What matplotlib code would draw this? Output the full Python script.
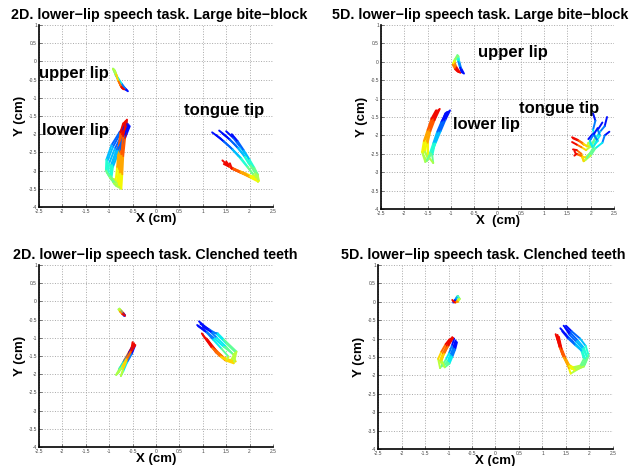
import matplotlib
matplotlib.use('Agg')
import matplotlib.pyplot as plt
import numpy as np
from matplotlib.collections import LineCollection

plt.rcParams['font.family'] = ['Liberation Sans', 'DejaVu Sans']

# ---------- 2D, large bite-block ----------
ul_2d_bb_x = [[-0.62,-0.68,-0.76,-0.85,-0.92,-0.88,-0.82,-0.76,-0.72],
              [-0.65,-0.70,-0.78,-0.86,-0.90,-0.86,-0.80,-0.75,-0.70],
              [-0.60,-0.66,-0.74,-0.83,-0.88,-0.85,-0.80,-0.74,-0.68]]
ul_2d_bb_y = [[-0.80,-0.72,-0.58,-0.40,-0.20,-0.30,-0.48,-0.65,-0.74],
              [-0.78,-0.70,-0.55,-0.38,-0.22,-0.34,-0.52,-0.68,-0.76],
              [-0.82,-0.74,-0.60,-0.42,-0.25,-0.36,-0.55,-0.70,-0.77]]
ll_2d_bb_x = [[-0.60,-0.72,-0.88,-1.00,-1.02,-0.92,-0.80,-0.78,-0.76,-0.72,-0.66],
              [-0.58,-0.70,-0.85,-0.96,-0.98,-0.88,-0.76,-0.74,-0.72,-0.68,-0.63],
              [-0.62,-0.75,-0.92,-1.04,-1.05,-0.95,-0.82,-0.80,-0.78,-0.74,-0.68],
              [-0.56,-0.66,-0.80,-0.92,-0.95,-0.85,-0.74,-0.72,-0.70,-0.66,-0.62],
              [-0.63,-0.78,-0.95,-1.06,-1.07,-0.98,-0.86,-0.83,-0.80,-0.76,-0.70],
              [-0.59,-0.68,-0.82,-0.94,-0.97,-0.90,-0.79,-0.77,-0.74,-0.70,-0.64]]
ll_2d_bb_y = [[-1.72,-2.00,-2.40,-2.80,-3.10,-3.30,-3.35,-3.00,-2.50,-2.05,-1.65],
              [-1.75,-2.05,-2.45,-2.85,-3.15,-3.38,-3.45,-3.05,-2.55,-2.05,-1.62],
              [-1.70,-1.95,-2.35,-2.75,-3.05,-3.25,-3.30,-2.95,-2.45,-2.00,-1.68],
              [-1.78,-2.10,-2.50,-2.90,-3.20,-3.42,-3.50,-3.10,-2.60,-2.10,-1.60],
              [-1.72,-1.95,-2.30,-2.70,-3.00,-3.20,-3.25,-2.90,-2.40,-1.95,-1.70],
              [-1.76,-2.05,-2.45,-2.85,-3.15,-3.35,-3.40,-3.05,-2.55,-2.05,-1.63]]
tt_2d_bb_x = [[1.20,1.38,1.58,1.76,1.92,2.08,2.12,1.95,1.75,1.58,1.45],
              [1.35,1.52,1.70,1.86,1.98,2.12,2.16,2.00,1.80,1.62,1.50],
              [1.50,1.65,1.80,1.94,2.05,2.17,2.20,2.05,1.85,1.68,1.55],
              [1.62,1.75,1.88,2.00,2.10,2.18,2.18,2.00,1.80,1.60,1.48],
              [1.28,1.45,1.64,1.82,1.96,2.08,2.10,1.92,1.72,1.55,1.42],
              [1.42,1.58,1.75,1.90,2.02,2.13,2.14,1.98,1.78,1.62,1.58]]
tt_2d_bb_y = [[-1.95,-2.12,-2.35,-2.60,-2.85,-3.10,-3.22,-3.12,-3.00,-2.90,-2.82],
              [-1.90,-2.08,-2.30,-2.55,-2.80,-3.05,-3.25,-3.15,-3.05,-2.95,-2.75],
              [-1.92,-2.10,-2.35,-2.60,-2.85,-3.10,-3.28,-3.20,-3.08,-2.98,-2.85],
              [-2.00,-2.20,-2.45,-2.70,-2.92,-3.12,-3.30,-3.18,-3.05,-2.92,-2.80],
              [-2.02,-2.20,-2.42,-2.66,-2.90,-3.12,-3.18,-3.08,-2.98,-2.88,-2.72],
              [-1.98,-2.15,-2.38,-2.62,-2.86,-3.08,-3.24,-3.14,-3.02,-2.94,-2.80]]

# ---------- 5D, large bite-block ----------
ul_5d_bb_x = [[-0.75,-0.80,-0.83,-0.86,-0.92,-0.95,-0.90,-0.84],
              [-0.72,-0.78,-0.82,-0.84,-0.90,-0.92,-0.88,-0.80],
              [-0.77,-0.81,-0.85,-0.88,-0.93,-0.96,-0.91,-0.86]]
ul_5d_bb_y = [[-0.30,-0.15,0.02,0.18,0.05,-0.05,-0.18,-0.28],
              [-0.32,-0.18,0.00,0.15,0.08,-0.02,-0.15,-0.30],
              [-0.28,-0.12,0.04,0.12,0.02,-0.08,-0.20,-0.26]]
ll_5d_bb_x = [[-1.05,-1.15,-1.25,-1.35,-1.42,-1.48,-1.55,-1.52,-1.45,-1.36,-1.26],
              [-1.10,-1.20,-1.30,-1.38,-1.45,-1.52,-1.60,-1.57,-1.50,-1.40,-1.30],
              [-1.12,-1.20,-1.28,-1.35,-1.40,-1.38,-1.50,-1.50,-1.44,-1.35,-1.24],
              [-1.02,-1.12,-1.22,-1.32,-1.40,-1.50,-1.58,-1.55,-1.47,-1.38,-1.30],
              [-1.08,-1.16,-1.26,-1.34,-1.42,-1.55,-1.62,-1.58,-1.50,-1.42,-1.32]]
ll_5d_bb_y = [[-1.35,-1.60,-1.90,-2.20,-2.45,-2.65,-2.45,-2.15,-1.85,-1.55,-1.30],
              [-1.38,-1.62,-1.92,-2.22,-2.48,-2.70,-2.50,-2.20,-1.90,-1.60,-1.35],
              [-1.40,-1.65,-1.95,-2.25,-2.55,-2.75,-2.55,-2.20,-1.88,-1.58,-1.28],
              [-1.32,-1.58,-1.88,-2.18,-2.42,-2.60,-2.40,-2.10,-1.80,-1.52,-1.32],
              [-1.36,-1.62,-1.92,-2.22,-2.50,-2.72,-2.45,-2.15,-1.85,-1.55,-1.32]]
tt_5d_bb_x = [[2.35,2.30,2.20,2.12,2.05,1.95,1.85,1.75,1.62],
              [2.05,2.10,2.05,2.10,2.00,1.90,1.80,1.70,1.60],
              [2.25,2.15,2.20,2.10,2.02,1.88,1.78,1.68,1.65],
              [2.40,2.30,2.25,2.10,2.00,1.85,1.80,1.70,1.62],
              [1.95,2.05,2.15,2.05,1.95,1.92,1.82,1.72,1.60],
              [2.15,2.05,1.98,2.05,1.90,1.85,1.80,1.70,1.65]]
tt_5d_bb_y = [[-1.50,-1.75,-1.90,-2.05,-2.20,-2.30,-2.25,-2.15,-2.08],
              [-1.40,-1.60,-1.85,-2.05,-2.30,-2.40,-2.32,-2.25,-2.18],
              [-1.65,-1.85,-2.00,-2.20,-2.45,-2.60,-2.55,-2.50,-2.42],
              [-1.90,-2.00,-2.20,-2.35,-2.55,-2.70,-2.50,-2.40,-2.38],
              [-2.10,-1.95,-2.15,-2.30,-2.20,-2.30,-2.20,-2.12,-2.05],
              [-1.80,-2.00,-2.15,-2.35,-2.65,-2.70,-2.55,-2.50,-2.55]]

# ---------- 2D, clenched teeth ----------
ul_2d_ct_x = [[-0.66,-0.70,-0.74,-0.78,-0.75,-0.70,-0.66],
              [-0.68,-0.72,-0.76,-0.80,-0.77,-0.72,-0.68]]
ul_2d_ct_y = [[-0.38,-0.32,-0.26,-0.20,-0.25,-0.32,-0.40],
              [-0.40,-0.33,-0.27,-0.22,-0.28,-0.35,-0.38]]
ll_2d_ct_x = [[-0.48,-0.55,-0.65,-0.75,-0.85,-0.78,-0.68,-0.58,-0.47],
              [-0.50,-0.58,-0.68,-0.77,-0.82,-0.74,-0.64,-0.55,-0.46],
              [-0.45,-0.52,-0.62,-0.70,-0.75,-0.70,-0.62,-0.54,-0.44],
              [-0.52,-0.60,-0.70,-0.78,-0.80,-0.72,-0.62,-0.53,-0.50]]
ll_2d_ct_y = [[-1.25,-1.45,-1.65,-1.85,-2.02,-1.85,-1.62,-1.40,-1.15],
              [-1.30,-1.50,-1.70,-1.88,-1.98,-1.80,-1.58,-1.38,-1.18],
              [-1.22,-1.45,-1.68,-1.92,-2.05,-1.85,-1.60,-1.40,-1.20],
              [-1.28,-1.48,-1.68,-1.84,-1.95,-1.78,-1.55,-1.35,-1.12]]
tt_2d_ct_x = [[0.92,1.10,1.30,1.50,1.68,1.62,1.45,1.25,1.05],
              [0.88,1.05,1.25,1.45,1.65,1.70,1.50,1.30,1.10],
              [0.95,1.15,1.30,1.50,1.70,1.60,1.40,1.20,1.00],
              [1.00,1.20,1.32,1.45,1.72,1.66,1.48,1.28,1.08],
              [0.90,1.08,1.22,1.40,1.55,1.50,1.36,1.18,0.98]]
tt_2d_ct_y = [[-0.55,-0.75,-1.00,-1.25,-1.50,-1.65,-1.55,-1.30,-1.00],
              [-0.65,-0.80,-1.02,-1.25,-1.45,-1.65,-1.60,-1.38,-1.05],
              [-0.62,-0.78,-0.90,-1.15,-1.40,-1.62,-1.52,-1.25,-0.92],
              [-0.70,-0.85,-0.88,-1.05,-1.38,-1.70,-1.62,-1.40,-1.02],
              [-0.68,-0.85,-1.05,-1.30,-1.52,-1.62,-1.50,-1.25,-0.88]]

# ---------- 5D, clenched teeth ----------
ul_5d_ct_x = [[-0.90,-0.86,-0.82,-0.78,-0.82,-0.88,-0.92],
              [-0.88,-0.84,-0.80,-0.76,-0.80,-0.86,-0.90]]
ul_5d_ct_y = [[-0.02,0.05,0.14,0.10,0.02,0.00,0.05],
              [0.00,0.08,0.16,0.08,0.00,-0.02,0.02]]
ll_5d_ct_x = [[-0.85,-0.90,-0.96,-1.02,-1.12,-1.18,-1.12,-1.04,-0.95],
              [-0.82,-0.86,-0.92,-0.98,-1.08,-1.15,-1.10,-1.02,-0.92],
              [-0.88,-0.93,-0.99,-1.06,-1.18,-1.22,-1.15,-1.06,-0.98],
              [-0.84,-0.88,-0.94,-1.00,-1.10,-1.16,-1.08,-1.00,-0.90]]
ll_5d_ct_y = [[-1.05,-1.25,-1.45,-1.62,-1.75,-1.60,-1.40,-1.20,-1.00],
              [-1.10,-1.30,-1.50,-1.68,-1.78,-1.62,-1.42,-1.22,-0.96],
              [-1.00,-1.20,-1.40,-1.58,-1.80,-1.55,-1.35,-1.15,-1.02],
              [-1.08,-1.28,-1.48,-1.66,-1.72,-1.58,-1.38,-1.18,-0.98]]
tt_5d_ct_x = [[1.45,1.60,1.75,1.88,1.95,1.85,1.65,1.55,1.45,1.38,1.32],
              [1.50,1.62,1.80,1.92,1.98,1.90,1.70,1.58,1.48,1.40,1.35],
              [1.38,1.52,1.68,1.82,1.88,1.80,1.62,1.52,1.42,1.35,1.28],
              [1.42,1.55,1.70,1.85,1.92,1.82,1.60,1.56,1.48,1.40,1.34],
              [1.48,1.58,1.72,1.86,1.96,1.88,1.68,1.54,1.44,1.36,1.30]]
tt_5d_ct_y = [[-0.65,-0.85,-1.05,-1.25,-1.50,-1.72,-1.78,-1.70,-1.45,-1.20,-0.90],
              [-0.65,-0.80,-1.00,-1.20,-1.45,-1.70,-1.80,-1.75,-1.50,-1.25,-0.95],
              [-0.72,-0.92,-1.12,-1.30,-1.55,-1.75,-1.82,-1.68,-1.42,-1.15,-0.88],
              [-0.80,-1.00,-1.18,-1.35,-1.58,-1.78,-1.95,-1.80,-1.55,-1.28,-1.00],
              [-0.70,-0.90,-1.08,-1.28,-1.52,-1.76,-1.86,-1.72,-1.48,-1.22,-0.92]]

titles = ['2D. lower\u2212lip speech task. Large bite\u2212block',
          '5D. lower\u2212lip speech task. Large bite\u2212block',
          '2D. lower\u2212lip speech task. Clenched teeth',
          '5D. lower\u2212lip speech task. Clenched teeth']
xlabels = ['X (cm)', 'X  (cm)', 'X (cm)', 'X (cm)']
xticks = [-2.5, -2, -1.5, -1, -0.5, 0, 0.5, 1, 1.5, 2, 2.5]
yticks = [1, 0.5, 0, -0.5, -1, -1.5, -2, -2.5, -3, -3.5, -4]

panels = [
    [(ul_2d_bb_x, ul_2d_bb_y), (ll_2d_bb_x, ll_2d_bb_y), (tt_2d_bb_x, tt_2d_bb_y)],
    [(ul_5d_bb_x, ul_5d_bb_y), (ll_5d_bb_x, ll_5d_bb_y), (tt_5d_bb_x, tt_5d_bb_y)],
    [(ul_2d_ct_x, ul_2d_ct_y), (ll_2d_ct_x, ll_2d_ct_y), (tt_2d_ct_x, tt_2d_ct_y)],
    [(ul_5d_ct_x, ul_5d_ct_y), (ll_5d_ct_x, ll_5d_ct_y), (tt_5d_ct_x, tt_5d_ct_y)],
]

# text labels only on the top row
labels = [
    [('upper lip', -2.5, -0.34), ('lower lip', -2.44, -1.91), ('tongue tip', 0.6, -1.36)],
    [('upper lip', -0.42, 0.24), ('lower lip', -0.95, -1.69), ('tongue tip', 0.46, -1.26)],
    [], [],
]

rects = [[0.0607, 0.5558, 0.3645, 0.3906],
         [0.5935, 0.5515, 0.3629, 0.3948],
         [0.0607, 0.0408, 0.3645, 0.3906],
         [0.5888, 0.0365, 0.3660, 0.3948]]
title_x = [0.513, 0.425, 0.496, 0.45]

fig = plt.figure(figsize=(6.42, 4.66), dpi=100)
for i in range(4):
    ax = fig.add_axes(rects[i])
    for xs, ys in panels[i]:
        for x, y in zip(xs, ys):
            pts = np.column_stack([x, y])
            segs = np.stack([pts[:-1], pts[1:]], axis=1)
            cols = plt.cm.jet(np.linspace(0.14, 0.9, len(segs)))
            ax.add_collection(LineCollection(segs, colors=cols, linewidths=1.4,
                                             capstyle='round', joinstyle='round'))
    for txt, tx, ty in labels[i]:
        ax.text(tx, ty, txt, fontsize=12, fontweight='bold', va='center', ha='left')
    ax.set_xlim(-2.5, 2.5)
    ax.set_ylim(-4, 1)
    ax.set_xticks(xticks)
    ax.set_yticks(yticks)
    ax.set_xticklabels([f'{t:g}' for t in xticks])
    ax.set_yticklabels([f'{t:g}' for t in yticks])
    ax.tick_params(labelsize=3.5, direction='in', length=2, width=0.5,
                   colors='#444444', pad=1.5)
    ax.grid(True, linestyle=':', color='#a8a8a8', linewidth=0.7)
    for s in ['top', 'right']:
        ax.spines[s].set_visible(False)
    for s in ['left', 'bottom']:
        ax.spines[s].set_linewidth(1.2)
    ax.set_title(titles[i], fontsize=10.3, fontweight='bold', pad=4, x=title_x[i])
    ax.set_xlabel(xlabels[i], fontsize=9.5, fontweight='bold', labelpad=-1)
    ax.set_ylabel('Y (cm)', fontsize=9.5, fontweight='bold', labelpad=2)

fig.savefig('out.png', dpi=100)
